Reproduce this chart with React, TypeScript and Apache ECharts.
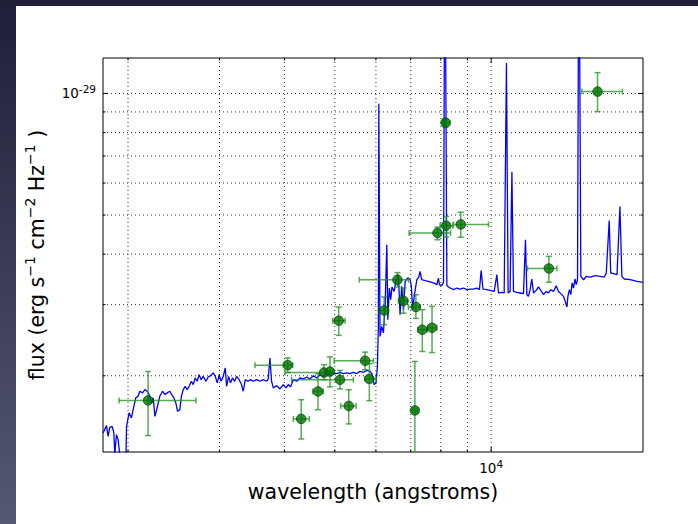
import React, { useEffect, useRef } from "react";
import * as echarts from "echarts";

// ---- Model spectrum (wavelength in angstroms, flux in units of 1e-30 erg s^-1 cm^-2 Hz^-1)
const specWavelength = [
  1791, 1818, 1831, 1844, 1864, 1878, 1886, 1900, 1914, 1928,
  1954, 1981, 1987, 2009, 2030, 2046, 2070, 2091, 2107, 2133,
  2155, 2177, 2196, 2218, 2236, 2253, 2275, 2302, 2331, 2355,
  2379, 2407, 2427, 2451, 2472, 2491, 2516, 2534, 2554, 2577,
  2599, 2622, 2649, 2670, 2694, 2717, 2741, 2765, 2791, 2825,
  2853, 2883, 2918, 2944, 2970, 2995, 3021, 3050, 3077, 3096,
  3123, 3150, 3177, 3208, 3237, 3273, 3307, 3333, 3363, 3403,
  3443, 3484, 3537, 3588, 3642, 3697, 3723, 3751, 3778, 3808,
  3865, 3921, 3980, 4028, 4069, 4111, 4161, 4224, 4285, 4350,
  4416, 4479, 4547, 4616, 4682, 4754, 4825, 4895, 4969, 5044,
  5117, 5195, 5273, 5349, 5430, 5512, 5592, 5677, 5762, 5846,
  5896, 5953, 6005, 6040, 6066, 6077, 6111, 6156, 6203, 6250,
  6297, 6325, 6369, 6407, 6443, 6505, 6563, 6629, 6678, 6727,
  6779, 6831, 6900, 6981, 7020, 7062, 7109, 7150, 7194, 7257,
  7298, 7351, 7464, 7573, 7685, 7803, 7861, 7916, 7951, 8033,
  8096, 8146, 8218, 8337, 8463, 8591, 8715, 8847, 8981, 9110,
  9249, 9388, 9495, 9565, 9643, 9814, 9956, 10134, 10256, 10329,
  10486, 10594, 10701, 10780, 10874, 10963, 11040, 11206, 11368, 11540,
  11643, 11715, 11797, 11884, 11971, 12064, 12209, 12332, 12460, 12612,
  12763, 12892, 13026, 13184, 13342, 13476, 13617, 13781, 13886, 13989,
  14051, 14149, 14234, 14314, 14407, 14497, 14580, 14663, 14753, 14881,
  15061, 15242, 15509, 15863, 16212, 16510, 16656, 16875, 16985, 17206,
  17466, 17695, 17848, 18042, 18521, 19086, 19587,
];
const specFlux = [
  1.444, 1.505, 1.416, 1.488, 1.499, 1.447, 1.276, 1.430, 1.390, 1.276,
  1.172, 1.227, 1.499, 1.619, 1.573, 1.649, 1.763, 1.779, 1.831, 1.814,
  1.848, 1.831, 1.797, 1.713, 1.763, 1.587, 1.664, 1.779, 1.831, 1.797,
  1.814, 1.831, 1.797, 1.763, 1.713, 1.633, 1.649, 1.779, 1.848, 1.883,
  1.848, 1.883, 1.938, 1.902, 1.975, 1.938, 2.013, 1.956, 1.993, 1.938,
  1.986, 2.001, 2.033, 1.993, 1.920, 2.013, 1.938, 1.993, 2.091, 1.883,
  1.993, 1.920, 1.975, 1.938, 1.993, 1.956, 1.902, 1.831, 1.956, 1.938,
  1.956, 1.938, 1.956, 1.938, 1.956, 1.938, 1.964, 2.213, 1.938, 1.866,
  1.891, 1.855, 1.902, 1.866, 1.902, 1.877, 1.956, 1.938, 1.975, 1.964,
  1.986, 1.964, 2.001, 1.975, 2.013, 1.993, 2.025, 2.013, 2.033, 2.025,
  2.040, 2.025, 2.033, 2.025, 2.040, 2.025, 2.051, 2.040, 2.063, 2.051,
  2.025, 1.902, 1.920, 2.110, 2.650, 9.430, 2.503, 2.650, 2.553, 2.970,
  4.222, 2.753, 3.298, 3.086, 3.318, 3.235, 3.458, 3.558, 2.834, 3.329,
  2.915, 3.426, 3.491, 3.458, 3.329, 2.915, 3.144, 3.298, 3.458, 3.511,
  3.626, 3.458, 3.439, 3.426, 3.406, 3.381, 3.362, 3.491, 3.362, 3.343,
  3.406, 30.0, 3.343, 3.298, 3.267, 3.298, 3.279, 3.298, 3.267, 3.279,
  3.279, 3.298, 3.267, 3.646, 3.279, 3.267, 3.254, 3.235, 3.558, 3.206,
  3.217, 3.206, 11.893, 3.206, 3.235, 6.399, 3.235, 3.217, 3.206, 3.194,
  4.343, 3.175, 3.144, 3.267, 3.472, 3.206, 3.254, 3.318, 3.254, 3.175,
  3.235, 3.206, 3.267, 3.235, 3.343, 3.235, 3.194, 3.144, 3.056, 2.960,
  3.144, 3.267, 3.175, 3.395, 3.298, 3.472, 3.362, 3.458, 30.0, 3.524,
  3.458, 3.524, 3.511, 3.538, 3.524, 3.511, 3.593, 4.849, 3.593, 3.579,
  3.558, 5.251, 3.524, 3.472, 3.458, 3.426, 3.406,
];

// ---- Photometry points with error bars (same units)
const photWavelength = [2186, 4058, 4309, 4642, 4768, 4895, 5088, 5117, 5319, 5719, 5828, 6223, 6600, 6779, 7131, 7162, 7370, 7695, 7882, 8168, 8193, 8741, 12914, 16024];
const photWaveLo = [1922, 3511, 4161, 4535, 4010, 4840, 4956, 4129, 5132, 4985, 5719, 6094, 5575, 6629, 7060, 6930, 7225, 7540, 6951, 8070, 7975, 8463, 11745, 14945];
const photWaveHi = [2702, 4150, 4466, 4753, 4898, 4960, 5234, 5430, 5495, 5934, 6005, 6341, 6930, 6904, 7210, 7298, 7540, 7861, 8354, 8330, 8434, 9883, 13382, 17893];
const photFlux = [1.738, 2.125, 1.564, 1.829, 2.037, 2.049, 2.737, 1.955, 1.684, 2.179, 1.964, 2.902, 3.457, 3.066, 1.641, 2.960, 2.600, 2.630, 4.515, 8.467, 4.705, 4.740, 3.687, 10.105];
const photFluxLo = [1.422, 2.037, 1.395, 1.648, 1.955, 1.877, 2.518, 1.855, 1.520, 2.070, 1.735, 2.676, 3.318, 2.857, 1.110, 2.774, 2.297, 2.283, 4.342, 8.240, 4.411, 4.406, 3.410, 9.017];
const photFluxHi = [2.049, 2.214, 1.745, 2.025, 2.131, 2.227, 2.960, 2.062, 1.847, 2.289, 2.143, 3.134, 3.601, 3.299, 2.170, 3.175, 2.914, 2.971, 4.670, 8.660, 4.960, 5.081, 3.950, 11.260];

// ---- Axis setup
const X_MIN = 1790;
const X_MAX = 19600;
const Y_MIN = 1.295;
const Y_MAX = 12.24;
const FLUX_UNIT_EXP = -30;
const xGridTicks = [2000, 3000, 4000, 5000, 6000, 7000, 8000, 9000, 10000];
const xMajorTicks = [10000];
const yGridTicks = [2, 3, 4, 5, 6, 7, 8, 9, 10];
const yMajorTicks = [10];

const FONT = "'DejaVu Sans', 'Liberation Sans', sans-serif";

const isPow10 = (v: number) => {
  const e = Math.log10(v);
  return Math.abs(e - Math.round(e)) < 1e-6;
};

export default function App() {
  const ref = useRef<HTMLDivElement>(null);

  useEffect(() => {
    if (!ref.current) return;
    const chart = echarts.init(ref.current, undefined, { renderer: "svg" });

    const spectrum = specWavelength.map((w, i) => [w, specFlux[i]]);
    const phot = photWavelength.map((w, i) => [
      w,
      photFlux[i],
      photWaveLo[i],
      photWaveHi[i],
      photFluxLo[i],
      photFluxHi[i],
    ]);

    const labelRich = {
      b: { fontFamily: FONT, fontSize: 13.5, lineHeight: 20, color: "#000" },
      s: { fontFamily: FONT, fontSize: 10.5, lineHeight: 11, verticalAlign: "top", color: "#000" },
    };

    const gridDash = { stroke: "#333", lineWidth: 1, lineDash: [1, 3] };
    const tickStyle = { stroke: "#000", lineWidth: 1 };
    const errColor = "rgba(30,145,30,0.75)";

    const option: any = {
      animation: false,
      backgroundColor: "#ffffff",
      graphic: [
        {
          type: "rect",
          shape: { x: 0, y: 0, width: 16, height: 524 },
          style: {
            fill: new echarts.graphic.LinearGradient(0, 0, 0, 1, [
              { offset: 0, color: "#201e3a" },
              { offset: 1, color: "#545872" },
            ]),
          },
          silent: true,
        },
        {
          type: "rect",
          shape: { x: 0, y: 0, width: 698, height: 6 },
          style: { fill: "#221f3b" },
          silent: true,
        },
      ],
      grid: {
        left: 103,
        top: 58,
        width: 540,
        height: 394,
        show: true,
        borderColor: "#000",
        borderWidth: 1,
        backgroundColor: "transparent",
      },
      xAxis: {
        type: "log",
        logBase: 10,
        min: X_MIN,
        max: X_MAX,
        axisLine: { show: false },
        axisTick: { show: false },
        splitLine: { show: false },
        axisLabel: {
          margin: 6,
          formatter: (v: number) => (isPow10(v) ? `{b|10}{s|${Math.round(Math.log10(v))}}` : ""),
          rich: labelRich,
        },
        name: "wavelength (angstroms)",
        nameLocation: "middle",
        nameGap: 26,
        nameTextStyle: { fontFamily: FONT, fontSize: 20.5, color: "#000", lineHeight: 24 },
      },
      yAxis: {
        type: "log",
        logBase: 10,
        min: Y_MIN,
        max: Y_MAX,
        axisLine: { show: false },
        axisTick: { show: false },
        splitLine: { show: false },
        axisLabel: {
          margin: 7,
          formatter: (v: number) =>
            isPow10(v) ? `{b|10}{s|${Math.round(Math.log10(v)) + FLUX_UNIT_EXP}}` : "",
          rich: labelRich,
        },
        name: "flux (erg s{s|−1} cm{s|−2} Hz{s|−1} )",
        nameLocation: "middle",
        nameGap: 48,
        nameTextStyle: {
          fontFamily: FONT,
          fontSize: 20.5,
          color: "#000",
          lineHeight: 28,
          rich: {
            s: { fontFamily: FONT, fontSize: 14, lineHeight: 14, verticalAlign: "top", color: "#000" },
          },
        },
      },
      series: [
        {
          type: "custom",
          name: "xgrid",
          silent: true,
          z: 1,
          data: xGridTicks.map((v) => [v, Y_MIN]),
          encode: { x: 0, y: 1 },
          renderItem: (params: any, api: any) => {
            const v = api.value(0);
            const p = api.coord([v, api.value(1)]);
            const cs = params.coordSys;
            const top = cs.y;
            const bottom = cs.y + cs.height;
            const len = xMajorTicks.includes(v) ? 5 : 2.5;
            return {
              type: "group",
              children: [
                { type: "line", shape: { x1: p[0], y1: top, x2: p[0], y2: bottom }, style: gridDash },
                { type: "line", shape: { x1: p[0], y1: bottom, x2: p[0], y2: bottom - len }, style: tickStyle },
                { type: "line", shape: { x1: p[0], y1: top, x2: p[0], y2: top + len }, style: tickStyle },
              ],
            };
          },
        },
        {
          type: "custom",
          name: "ygrid",
          silent: true,
          z: 1,
          data: yGridTicks.map((v) => [X_MIN, v]),
          encode: { x: 0, y: 1 },
          renderItem: (params: any, api: any) => {
            const v = api.value(1);
            const p = api.coord([api.value(0), v]);
            const cs = params.coordSys;
            const left = cs.x;
            const right = cs.x + cs.width;
            const len = yMajorTicks.includes(v) ? 5 : 2.5;
            return {
              type: "group",
              children: [
                { type: "line", shape: { x1: left, y1: p[1], x2: right, y2: p[1] }, style: gridDash },
                { type: "line", shape: { x1: left, y1: p[1], x2: left + len, y2: p[1] }, style: tickStyle },
                { type: "line", shape: { x1: right, y1: p[1], x2: right - len, y2: p[1] }, style: tickStyle },
              ],
            };
          },
        },
        {
          type: "line",
          name: "spectrum",
          data: spectrum,
          showSymbol: false,
          symbol: "none",
          clip: true,
          silent: true,
          z: 2,
          lineStyle: { color: "#0000ff", width: 1.3 },
        },
        {
          type: "custom",
          name: "errors",
          silent: true,
          clip: true,
          z: 3,
          data: phot,
          encode: { x: 0, y: 1 },
          renderItem: (params: any, api: any) => {
            const x = api.value(0);
            const y = api.value(1);
            const pl = api.coord([api.value(2), y]);
            const pr = api.coord([api.value(3), y]);
            const pb = api.coord([x, api.value(4)]);
            const pt = api.coord([x, api.value(5)]);
            const st = { stroke: errColor, lineWidth: 1.5 };
            const cap = 3;
            return {
              type: "group",
              children: [
                { type: "line", shape: { x1: pl[0], y1: pl[1], x2: pr[0], y2: pr[1] }, style: st },
                { type: "line", shape: { x1: pl[0], y1: pl[1] - cap, x2: pl[0], y2: pl[1] + cap }, style: st },
                { type: "line", shape: { x1: pr[0], y1: pr[1] - cap, x2: pr[0], y2: pr[1] + cap }, style: st },
                { type: "line", shape: { x1: pt[0], y1: pt[1], x2: pb[0], y2: pb[1] }, style: st },
                { type: "line", shape: { x1: pt[0] - cap, y1: pt[1], x2: pt[0] + cap, y2: pt[1] }, style: st },
                { type: "line", shape: { x1: pb[0] - cap, y1: pb[1], x2: pb[0] + cap, y2: pb[1] }, style: st },
              ],
            };
          },
        },
        {
          type: "scatter",
          name: "photometry",
          data: phot.map((d) => [d[0], d[1]]),
          symbol: "circle",
          symbolSize: 9.5,
          silent: true,
          z: 4,
          itemStyle: { color: "#007200", borderColor: "#004800", borderWidth: 1 },
        },
      ],
    };

    chart.setOption(option);
    return () => chart.dispose();
  }, []);

  return (
    <div
      ref={ref}
      style={{ position: "fixed", left: 0, top: 0, width: 698, height: 524, background: "#fff" }}
    />
  );
}
